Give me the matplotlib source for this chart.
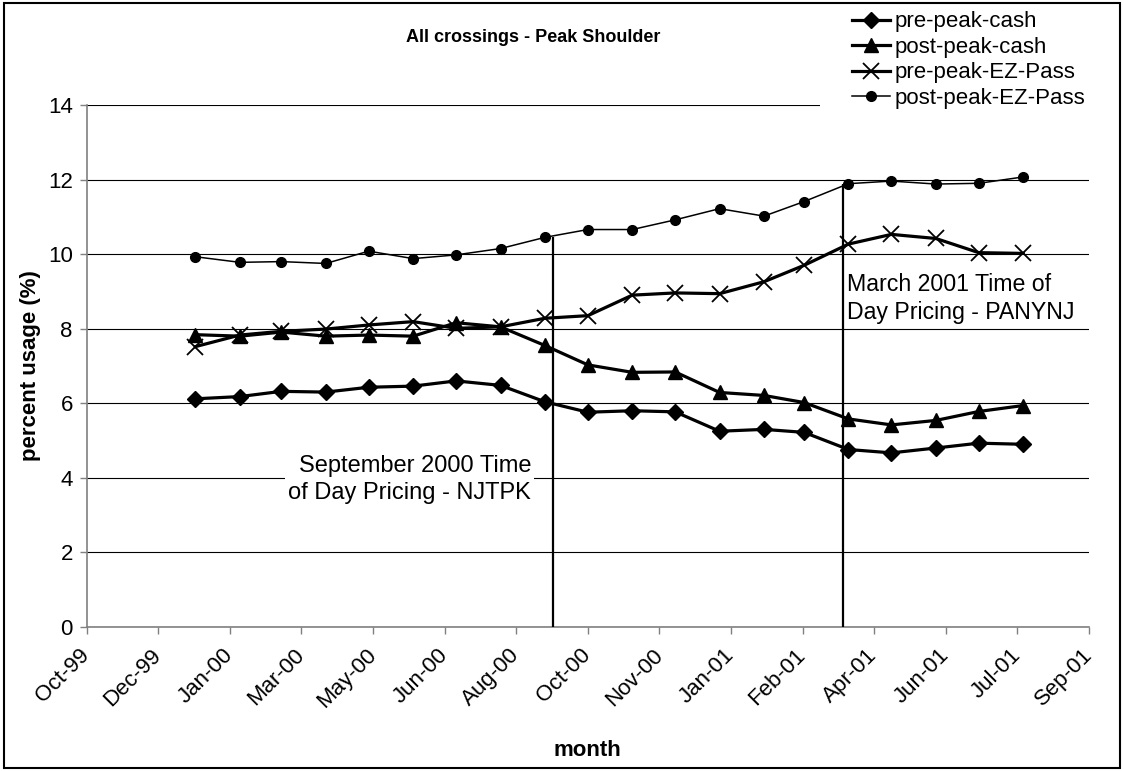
import numpy as np
import matplotlib.pyplot as plt
import matplotlib.dates as mdates
from matplotlib.patches import Rectangle

plt.rcParams['font.family'] = ['Liberation Sans', 'DejaVu Sans']

# monthly observations
months = ['2000-01-01', '2000-02-01', '2000-03-01', '2000-04-01', '2000-05-01',
          '2000-06-01', '2000-07-01', '2000-08-01', '2000-09-01', '2000-10-01',
          '2000-11-01', '2000-12-01', '2001-01-01', '2001-02-01', '2001-03-01',
          '2001-04-01', '2001-05-01', '2001-06-01', '2001-07-01', '2001-08-01']

pre_peak_cash = [6.12, 6.18, 6.32, 6.30, 6.43, 6.46, 6.60, 6.48, 6.04, 5.76,
                 5.80, 5.77, 5.25, 5.30, 5.22, 4.76, 4.67, 4.80, 4.93, 4.90]
post_peak_cash = [7.84, 7.80, 7.91, 7.80, 7.83, 7.80, 8.16, 8.05, 7.55, 7.03,
                  6.83, 6.84, 6.29, 6.21, 6.02, 5.58, 5.42, 5.54, 5.78, 5.94]
pre_peak_ezpass = [7.52, 7.83, 7.93, 7.99, 8.10, 8.19, 8.01, 8.05, 8.28, 8.35,
                   8.90, 8.96, 8.94, 9.26, 9.70, 10.27, 10.53, 10.42, 10.04, 10.02]
post_peak_ezpass = [9.93, 9.78, 9.80, 9.75, 10.08, 9.88, 9.98, 10.15, 10.45, 10.66,
                    10.66, 10.92, 11.22, 11.02, 11.41, 11.89, 11.96, 11.88, 11.90, 12.07]

# pricing change markers
event_dates = ['2000-09-07', '2001-03-28']
event_tops = [10.45, 11.88]

x = np.array(months, dtype='datetime64[D]')

fig = plt.figure(figsize=(11.24, 7.71), dpi=100)
ax = fig.add_axes([0.0771, 0.1868, 0.8918, 0.6770])

ax.plot(x, pre_peak_cash, color='black', lw=2.3, marker='D', ms=8.5, label='pre-peak-cash', zorder=4)
ax.plot(x, post_peak_cash, color='black', lw=2.3, marker='^', ms=10, label='post-peak-cash', zorder=4)
ax.plot(x, pre_peak_ezpass, color='black', lw=2.3, marker='x', ms=11, mew=1.3, label='pre-peak-EZ-Pass', zorder=4)
ax.plot(x, post_peak_ezpass, color='black', lw=1.1, marker='o', ms=7, label='post-peak-EZ-Pass', zorder=4)

ax.vlines(np.array(event_dates, dtype='datetime64[D]'), 0, event_tops, color='black', lw=1.6, zorder=3)

ax.text(0.4433, 0.282, 'September 2000 Time\nof Day Pricing - NJTPK', transform=ax.transAxes,
        ha='right', va='center', fontsize=17, multialignment='right', linespacing=1.27,
        bbox=dict(facecolor='white', edgecolor='none', pad=2), zorder=2)
ax.text(0.7586, 0.630, 'March 2001 Time of\nDay Pricing - PANYNJ', transform=ax.transAxes,
        ha='left', va='center', fontsize=16.7, linespacing=1.27, zorder=2)

# axes
ax.set_ylim(0, 14)
ax.set_yticks(range(0, 15, 2))
start = np.datetime64('1999-10-17')
ticks = np.arange(start, start + 701, 50)
ax.set_xlim(ticks[0], ticks[-1])
ax.set_xticks(ticks)
ax.xaxis.set_major_formatter(mdates.DateFormatter('%b-%y'))
for lab in ax.get_xticklabels():
    lab.set_rotation(45)
    lab.set_ha('right')
    lab.set_va('center')
    lab.set_rotation_mode('anchor')

ax.grid(axis='y', color='black', lw=0.8)
ax.set_axisbelow(True)
for s in ['top', 'right']:
    ax.spines[s].set_visible(False)
for s in ['left', 'bottom']:
    ax.spines[s].set_color('#808080')
    ax.spines[s].set_linewidth(1.2)
ax.tick_params(axis='both', direction='out', length=5, width=1, color='#808080', labelsize=16)
ax.tick_params(axis='x', pad=13)
ax.tick_params(axis='y', pad=5)

ax.set_xlabel('month', fontsize=16, fontweight='bold', labelpad=20)
ax.set_ylabel('percent usage (%)', fontsize=16, fontweight='bold', labelpad=5)

fig.text(533 / 1124, 1 - 37 / 771, 'All crossings - Peak Shoulder', ha='center', va='center',
         fontsize=13, fontweight='bold')

fig.legend(loc='upper left', bbox_to_anchor=(820 / 1124, 1.027), borderaxespad=0, frameon=True,
           facecolor='white', edgecolor='none', framealpha=1, fancybox=False, fontsize=16,
           handlelength=1.7, handletextpad=0.2, labelspacing=0.2, borderpad=1.45)

fig.add_artist(Rectangle((0.004, 0.004), 0.992, 0.992, transform=fig.transFigure,
                         fill=False, edgecolor='black', lw=1.5, zorder=20))

fig.savefig('out.png', dpi=100)
